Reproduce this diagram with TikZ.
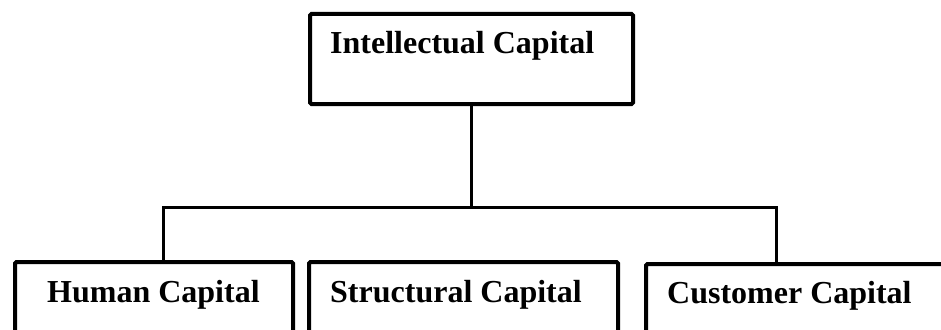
\documentclass[tikz,border=0pt]{standalone}
\usepackage{fontspec}
\setmainfont{Liberation Serif}
\begin{document}
\begin{tikzpicture}[x=1pt,y=-1pt,
  box/.style={draw=black, line width=4pt, rounded corners=1.5pt, minimum width=#1, minimum height=140pt, inner sep=0pt, anchor=north west},
  conn/.style={draw=black, line width=3pt, line join=miter},
  lbl/.style={font=\fontsize{32}{38}\selectfont\bfseries, inner sep=0pt, anchor=base west}]
\useasboundingbox (0,0) rectangle (941,329);
\clip (0,0) rectangle (941,329);
\fill[white] (0,0) rectangle (941,329);
% top box
\node[box=323pt, minimum height=90pt] (ic) at (308,12) {};
\node[lbl] (ict) at (330,53) {Intellectual Capital};
% bottom boxes
\node[box=278pt] (hc) at (13,260) {};
\node[lbl] (hct) at (47,302) {Human Capital};
\node[box=309pt] (sc) at (307,260) {};
\node[lbl] (sct) at (330,302) {Structural Capital};
\node[box=400pt] (cc) at (644,262) {};
\node[lbl] (cct) at (667,303) {Customer Capital};
% connectors
\coordinate (bl) at (163,207);
\coordinate (br) at (776,207);
\draw[conn] (ic.south) -- (ic.south |- bl);
\draw[conn] (hc.north -| bl) -- (bl) -- (br) -- (cc.north -| br);
\end{tikzpicture}
\end{document}
